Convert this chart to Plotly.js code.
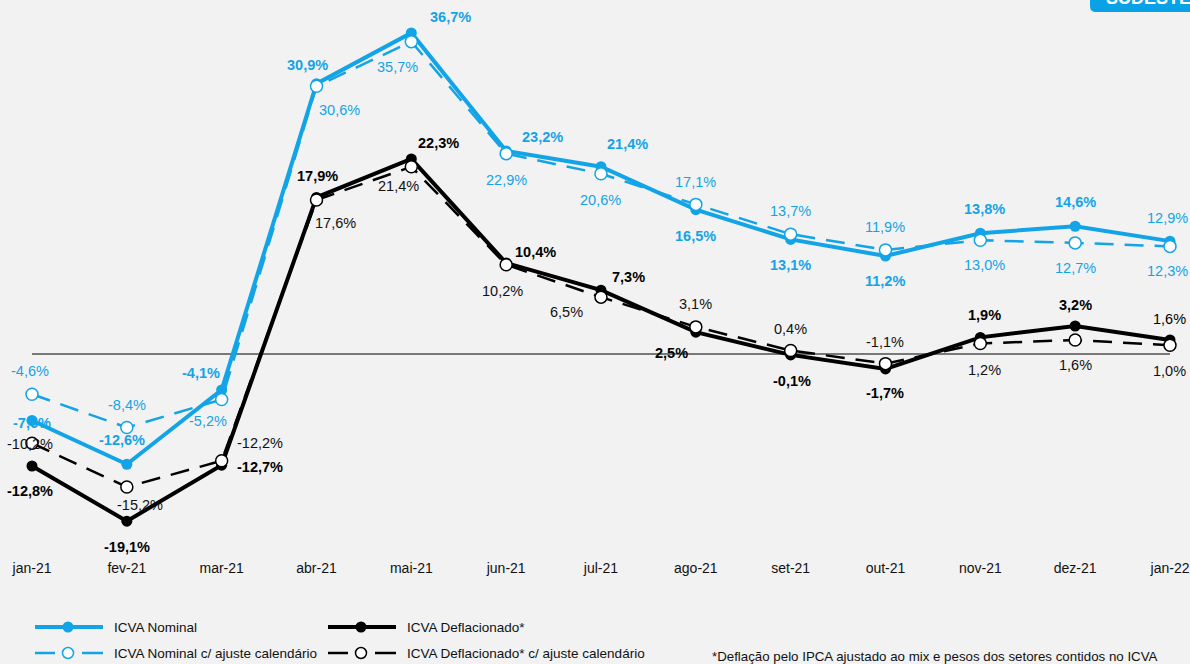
<!DOCTYPE html>
<html>
<head>
<meta charset="utf-8">
<script src="https://cdn.plot.ly/plotly-3.0.1.min.js"></script>
<style>
html,body{margin:0;padding:0;background:#f2f2f2;}
#chart{width:1190px;height:664px;}
</style>
</head>
<body>
<div id="chart"></div>
<script>
// ---- data ----
var months = ['jan-21','fev-21','mar-21','abr-21','mai-21','jun-21','jul-21','ago-21','set-21','out-21','nov-21','dez-21','jan-22'];
var nominal = [-7.6, -12.6, -4.1, 30.9, 36.7, 23.2, 21.4, 16.5, 13.1, 11.2, 13.8, 14.6, 12.9];
var nominalAdj = [-4.6, -8.4, -5.2, 30.6, 35.7, 22.9, 20.6, 17.1, 13.7, 11.9, 13.0, 12.7, 12.3];
var deflacionado = [-12.8, -19.1, -12.7, 17.9, 22.3, 10.4, 7.3, 2.5, -0.1, -1.7, 1.9, 3.2, 1.6];
var deflacionadoAdj = [-10.2, -15.2, -12.2, 17.6, 21.4, 10.2, 6.5, 3.1, 0.4, -1.1, 1.2, 1.6, 1.0];
var seriesNames = ['ICVA Nominal','ICVA Deflacionado*','ICVA Nominal c/ ajuste calendário','ICVA Deflacionado* c/ ajuste calendário'];
var footnote = '*Deflação pelo IPCA ajustado ao mix e pesos dos setores contidos no ICVA';
var badgeText = 'SUDESTE';

// ---- styles ----
var BLUE = '#12a4e6';
var BLACK = '#000000';
var FONT = 'Liberation Sans, Arial, sans-serif';
var W = 1190, PH = 555;
function px(x){ return x / W; }
function py(y){ return (PH - y) / PH; }

// label offsets in pixels (dx right, dy down) — styling only
var offNom  = [[0,2],[-5,-24],[-21,-17],[-9,-19],[39,-16],[36,-14],[27,-23],[0,26],[0,26],[0,25],[4,-24],[0,-24],[-2,-23]];
var offNomA = [[-2,-23],[0,-23],[-14,21],[23,24],[-14,25],[0,26],[0,26],[0,-22],[0,-23],[0,-23],[4,25],[0,25],[-2,25]];
var offDef  = [[-2,25],[0,26],[38,2],[1,-21],[27,-16],[29,-11],[28,-13],[-24,21],[1,26],[0,24],[4,-22],[0,-21],[0,-21]];
var offDefA = [[-2,1],[13,18],[38,-18],[19,23],[-13,19],[-4,26],[-34,15],[0,-23],[0,-22],[0,-22],[4,26],[0,25],[0,26]];

function fmt(v){ return v.toFixed(1).replace('.', ',') + '%'; }

var traces = [
  {x: months, y: nominal, name: seriesNames[0], mode: 'lines+markers',
   line: {color: BLUE, width: 4}, marker: {color: BLUE, size: 11}},
  {x: months, y: deflacionado, name: seriesNames[1], mode: 'lines+markers',
   line: {color: BLACK, width: 4}, marker: {color: BLACK, size: 11}},
  {x: months, y: nominalAdj, name: seriesNames[2], mode: 'lines+markers',
   line: {color: BLUE, width: 2.5, dash: '19px,11px'}, marker: {color: '#ffffff', size: 12, line: {color: BLUE, width: 1.5}}},
  {x: months, y: deflacionadoAdj, name: seriesNames[3], mode: 'lines+markers',
   line: {color: BLACK, width: 2.5, dash: '19px,11px'}, marker: {color: '#ffffff', size: 12, line: {color: BLACK, width: 1.5}}}
];
traces.forEach(function(t){ t.cliponaxis = false; t.hoverinfo = 'skip'; });

var annotations = [];
function addLabels(vals, offs, color, bold, lastNormal){
  vals.forEach(function(v, i){
    var b = bold && !(lastNormal && i === vals.length - 1);
    annotations.push({
      x: months[i], y: v, xref: 'x', yref: 'y', showarrow: false,
      text: b ? '<b>' + fmt(v) + '</b>' : fmt(v),
      xshift: offs[i][0], yshift: -offs[i][1],
      font: {family: FONT, size: 14.5, color: color}
    });
  });
}
addLabels(nominal, offNom, BLUE, true, true);
addLabels(nominalAdj, offNomA, BLUE, false, false);
addLabels(deflacionado, offDef, BLACK, true, true);
addLabels(deflacionadoAdj, offDefA, '#111111', false, false);

var shapes = [
  {type: 'line', xref: 'x', yref: 'y', x0: months[0], x1: months[months.length-1], y0: 0, y1: 0,
   line: {color: '#000000', width: 1}, layer: 'below'}
];

// badge (top right, partially off-page)
shapes.push({type: 'path', xref: 'paper', yref: 'paper',
  path: 'M ' + px(1090) + ' ' + py(-10) + ' L ' + px(1090) + ' ' + py(6) +
        ' Q ' + px(1090) + ' ' + py(12) + ' ' + px(1096) + ' ' + py(12) +
        ' L ' + px(1195) + ' ' + py(12) + ' L ' + px(1195) + ' ' + py(-10) + ' Z',
  fillcolor: '#0aa2e6', line: {width: 0}});
annotations.push({xref: 'paper', yref: 'paper', x: px(1104), y: py(10), xanchor: 'left', yanchor: 'bottom',
  showarrow: false, text: '<b>' + badgeText + '</b>',
  font: {family: FONT, size: 18, color: '#ffffff'}});

// manual legend
var legendItems = [
  {x: 35, y: 627, color: BLUE, dashed: false, name: seriesNames[0]},
  {x: 328, y: 627, color: BLACK, dashed: false, name: seriesNames[1]},
  {x: 35, y: 653, color: BLUE, dashed: true, name: seriesNames[2]},
  {x: 328, y: 653, color: BLACK, dashed: true, name: seriesNames[3]}
];
legendItems.forEach(function(it){
  var cx = it.x + 33;
  if (!it.dashed){
    shapes.push({type: 'line', xref: 'paper', yref: 'paper', x0: px(it.x), x1: px(it.x + 68), y0: py(it.y), y1: py(it.y),
      line: {color: it.color, width: 4}});
    shapes.push({type: 'circle', xref: 'paper', yref: 'paper', xsizemode: 'pixel', ysizemode: 'pixel',
      xanchor: px(cx), yanchor: py(it.y), x0: -5.5, x1: 5.5, y0: -5.5, y1: 5.5,
      fillcolor: it.color, line: {color: it.color, width: 0}});
  } else {
    shapes.push({type: 'line', xref: 'paper', yref: 'paper', x0: px(it.x), x1: px(it.x + 20), y0: py(it.y), y1: py(it.y),
      line: {color: it.color, width: 2.5}});
    shapes.push({type: 'line', xref: 'paper', yref: 'paper', x0: px(it.x + 47), x1: px(it.x + 68), y0: py(it.y), y1: py(it.y),
      line: {color: it.color, width: 2.5}});
    shapes.push({type: 'circle', xref: 'paper', yref: 'paper', xsizemode: 'pixel', ysizemode: 'pixel',
      xanchor: px(cx), yanchor: py(it.y), x0: -5.5, x1: 5.5, y0: -5.5, y1: 5.5,
      fillcolor: '#ffffff', line: {color: it.color, width: 1.5}});
  }
  annotations.push({xref: 'paper', yref: 'paper', x: px(it.x + 77), y: py(it.y), xanchor: 'left', yanchor: 'middle',
    showarrow: false, text: it.name,
    font: {family: FONT, size: 13.5, color: '#111111'}});
});

annotations.push({xref: 'paper', yref: 'paper', x: px(710), y: py(656), xanchor: 'left', yanchor: 'middle',
  showarrow: false, text: footnote,
  font: {family: FONT, size: 13.3, color: '#111111'}});

var layout = {
  width: 1190, height: 664,
  margin: {l: 0, r: 0, t: 0, b: 664 - PH, pad: 0},
  paper_bgcolor: '#f2f2f2', plot_bgcolor: '#f2f2f2',
  showlegend: false,
  xaxis: {type: 'category', range: [-0.3374, 12.211], showgrid: false, zeroline: false, showline: false,
    ticks: '', ticklabelstandoff: 3, tickfont: {family: FONT, size: 14, color: '#111111'}, fixedrange: true},
  yaxis: {range: [-(PH - 354) / 8.75, 354 / 8.75], showgrid: false, zeroline: false, showline: false,
    showticklabels: false, ticks: '', fixedrange: true},
  shapes: shapes,
  annotations: annotations
};

Plotly.newPlot('chart', traces, layout, {displayModeBar: false, staticPlot: true});
</script>
</body>
</html>
